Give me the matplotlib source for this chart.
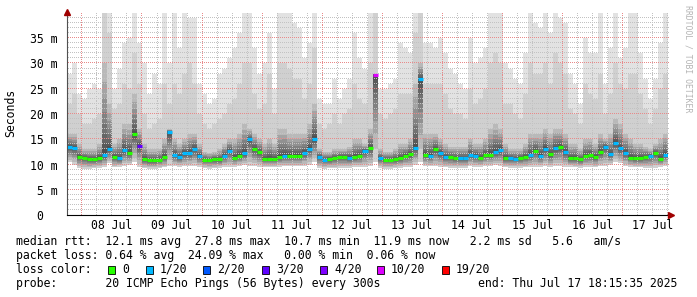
import numpy as np
import matplotlib.pyplot as plt
from matplotlib.patches import Rectangle

# ---- data (2 hour bins, 10 days ending Thu Jul 17 18:15:35) ----
day_labels = ["08 Jul", "09 Jul", "10 Jul", "11 Jul", "12 Jul",
              "13 Jul", "14 Jul", "15 Jul", "16 Jul", "17 Jul"]

median_ms = [13.5, 13.2, 11.5, 11.2, 11.0, 11.0, 11.2, 11.8, 13.0, 11.5,
             11.2, 12.8, 12.3, 16.0, 13.7, 11.0, 10.8, 10.8, 10.9, 11.5,
             16.5, 11.9, 11.5, 12.2, 12.3, 13.1, 11.7, 10.9, 10.9, 11.1,
             11.0, 11.7, 12.7, 11.3, 11.7, 12.2, 15.0, 13.1, 12.4, 11.1,
             11.1, 11.1, 11.5, 11.7, 11.7, 11.7, 11.7, 12.3, 13.1, 15.1,
             11.5, 10.9, 11.1, 11.3, 11.5, 11.5, 11.3, 11.5, 11.7, 12.7,
             13.3, 27.8, 11.3, 10.9, 10.9, 11.1, 11.3, 11.7, 12.0, 13.2,
             27.0, 11.9, 11.7, 13.0, 12.2, 11.5, 11.5, 11.2, 11.2, 11.2,
             11.9, 11.7, 11.3, 11.9, 11.9, 12.5, 12.8, 11.3, 11.2, 11.1,
             11.3, 11.5, 11.9, 12.7, 11.7, 13.1, 12.0, 13.2, 13.5, 12.5,
             11.2, 11.3, 11.0, 11.7, 11.9, 11.5, 12.5, 13.5, 12.0, 14.3,
             13.2, 12.3, 11.3, 11.3, 11.3, 11.5, 11.7, 12.2, 11.1, 11.9]

# index into loss_labels / loss_colors
loss_idx = [1, 1, 0, 0, 0, 0, 0, 1, 1, 0, 1, 1, 0, 0, 3, 0, 0, 0, 0, 0,
            1, 1, 1, 1, 1, 1, 1, 0, 0, 0, 0, 1, 1, 0, 0, 1, 1, 0, 0, 0,
            0, 0, 0, 1, 0, 0, 0, 1, 1, 1, 1, 1, 0, 0, 0, 0, 1, 0, 0, 1,
            0, 5, 1, 0, 0, 0, 0, 0, 0, 1, 1, 0, 1, 0, 1, 1, 0, 0, 1, 1,
            1, 1, 0, 0, 0, 1, 1, 0, 1, 1, 0, 0, 1, 0, 1, 1, 0, 1, 0, 1,
            0, 0, 0, 0, 0, 0, 0, 1, 1, 1, 1, 1, 0, 0, 0, 0, 1, 0, 0, 1]

smoke_top = [28, 30, 24, 23, 25, 26, 25, 40, 40, 25, 29, 34, 35, 40, 34, 30, 24, 28, 26, 40,
             30, 40, 33, 40, 39, 39, 26, 24, 22, 23, 28, 29, 31, 33, 36, 40, 40, 33, 28, 30,
             36, 25, 40, 40, 40, 38, 37, 31, 34, 40, 23, 22, 22, 27, 23, 25, 27, 36, 31, 29,
             40, 40, 25, 25, 26, 27, 34, 33, 32, 40, 40, 34, 34, 33, 35, 32, 29, 28, 26, 25,
             35, 30, 31, 33, 40, 40, 40, 30, 29, 27, 26, 32, 40, 38, 37, 40, 36, 40, 39, 38,
             28, 26, 22, 35, 32, 32, 40, 26, 33, 40, 31, 33, 40, 40, 32, 27, 23, 27, 34, 40]

smoke_mid = [22, 24, 20, 18, 18, 19, 20, 40, 36, 21, 22, 26, 25, 32, 26, 20, 17, 18, 19, 26,
             22, 26, 24, 28, 30, 26, 20, 18, 17, 18, 19, 20, 22, 23, 26, 30, 30, 24, 21, 22,
             28, 20, 30, 30, 29, 27, 27, 23, 26, 33, 18, 17, 18, 20, 18, 20, 21, 26, 23, 22,
             30, 40, 20, 19, 20, 21, 24, 24, 24, 36, 40, 26, 26, 26, 26, 24, 21, 20, 20, 19,
             25, 22, 23, 25, 30, 32, 30, 22, 22, 20, 19, 24, 30, 28, 28, 30, 26, 32, 30, 28,
             21, 20, 18, 26, 24, 23, 28, 20, 24, 30, 26, 25, 28, 28, 24, 21, 18, 21, 25, 28]

smoke_core = [16, 16, 14, 13, 13, 13, 14, 30, 22, 14, 15, 18, 18, 24, 17, 14, 13, 13, 13, 15,
              17, 15, 14, 15, 16, 16, 14, 12.5, 12.3, 12.5, 13, 14, 15, 15, 16, 18, 17, 16, 15, 14,
              15, 14, 17, 17, 16, 16, 16, 16, 18, 22, 13, 12.5, 12.5, 13, 13, 13, 13.5, 15, 15, 14,
              17, 28, 13, 12.5, 12.5, 13, 14, 14, 15, 26, 30, 16, 16, 16, 15, 14, 13.5, 13.5, 13.5, 13.5,
              15, 14, 14, 15, 17, 18, 17, 14, 13, 13, 13, 14, 16, 16, 16, 17, 16, 17, 17, 16,
              14, 14, 13, 15, 15, 14, 16, 15, 16, 19, 18, 16, 15, 14, 14, 13.5, 13, 14, 15, 16]

smoke_bot = [10.5, 10, 9.3, 9.2, 9.2, 9.3, 9.4, 9.6, 10.2, 9.5, 9.6, 9.8, 10, 10.5, 9.5, 9.3, 9.2, 9.2, 9.3, 9.5,
             9.8, 9.7, 9.6, 9.7, 9.8, 9.8, 9.5, 9.3, 9.2, 9.3, 9.4, 9.5, 9.6, 9.6, 9.8, 10, 9.8, 9.8, 9.6, 9.5,
             9.5, 9.5, 9.6, 9.7, 9.7, 9.7, 9.7, 9.8, 10, 10.5, 9.4, 9.2, 9.3, 9.3, 9.4, 9.4, 9.4, 9.6, 9.6, 9.6,
             9.8, 10.5, 9.4, 9.2, 9.2, 9.3, 9.4, 9.5, 9.6, 10, 10.5, 9.7, 9.7, 9.7, 9.6, 9.5, 9.4, 9.4, 9.4, 9.4,
             9.7, 9.6, 9.6, 9.7, 9.8, 9.9, 9.8, 9.5, 9.4, 9.4, 9.4, 9.5, 9.6, 9.6, 9.6, 9.7, 9.6, 9.7, 9.7, 9.6,
             9.6, 9.5, 9.4, 9.6, 9.6, 9.5, 9.7, 9.8, 10, 10.5, 10.2, 9.8, 9.6, 9.5, 9.5, 9.4, 9.3, 9.4, 9.6, 9.8]

loss_labels = ["0", "1/20", "2/20", "3/20", "4/20", "10/20", "19/20"]
loss_colors = ["#26ff00", "#00b8ff", "#0059ff", "#5e00ff", "#7e00ff", "#dd00ff", "#ff0000"]

stat_lines = [
    "median rtt:  12.1 ms avg  27.8 ms max  10.7 ms min  11.9 ms now   2.2 ms sd   5.6   am/s",
    "packet loss: 0.64 % avg  24.09 % max   0.00 % min  0.06 % now",
]
probe_line = "probe:       20 ICMP Echo Pings (56 Bytes) every 300s"
end_line = "end: Thu Jul 17 18:15:35 2025"

# ---- layout ----
W, H = 697, 297
PW, PH = 601, 202        # plot area in pixels
mono = "DejaVu Sans Mono"
fs = 8.3

start = -0.2392          # days from 08 Jul 00:00
n = len(median_ms)
step = 10.0 / n
edges = start + np.arange(n + 1) * step
ymax = 40

fig = plt.figure(figsize=(W / 100, H / 100), dpi=100)
fig.patch.set_facecolor("white")
ax = fig.add_axes([67 / W, 82 / H, PW / W, PH / H])


def ext(a):
    a = np.asarray(a, dtype=float)
    return np.append(a, a[-1])


med = np.asarray(median_ms, dtype=float)
bot = np.asarray(smoke_bot, dtype=float)
core = np.asarray(smoke_core, dtype=float)

# smoke
ax.fill_between(edges, ext(bot), ext(smoke_top), step="post", color="#e2e2e2", lw=0, zorder=1)
ax.fill_between(edges, ext(bot), ext(smoke_mid), step="post", color="#d0d0d0", lw=0, zorder=1.1)
for f in [1.0, 0.8, 0.62, 0.47, 0.34, 0.23, 0.14, 0.07]:
    lo = med - (med - bot) * f * 0.85
    hi = med + (core - med) * f
    ax.fill_between(edges, ext(lo), ext(hi), step="post", color="black",
                    alpha=0.11, lw=0, zorder=1.2)

# dotted rrdtool-style grid: one pixel every other pixel
minor_col, major_col = "#c2c2c2", "#e88a8a"
dots_x = start + (np.arange(0, PW, 2) + 0.5) / PW * 10
dots_y = (np.arange(0, PH, 2) + 0.5) / PH * ymax
for v in range(1, ymax):
    major = v % 5 == 0
    ax.plot(dots_x, np.full(dots_x.size, v), ",", color=major_col if major else minor_col,
            zorder=2.1 if major else 2)
for xv in np.arange(0.0, 10.0, 0.25):
    if xv <= start or xv >= start + 10:
        continue
    major = abs(xv - round(xv)) < 1e-6
    ax.plot(np.full(dots_y.size, xv), dots_y, ",", color=major_col if major else minor_col,
            zorder=2.1 if major else 2)

# median, coloured by loss
ax.hlines(med, edges[:-1], edges[1:], colors=[loss_colors[i] for i in loss_idx],
          lw=2.3, zorder=4)

ax.set_xlim(start, start + 10)
ax.set_ylim(0, ymax)
ax.set_xticks(np.arange(10) + 0.5)
ax.set_xticklabels(day_labels, family=mono, fontsize=fs)
ax.set_yticks(np.arange(0, 40, 5))
ax.set_yticklabels(["0  "] + [f"{v} m" for v in range(5, 40, 5)], family=mono, fontsize=fs)
ax.tick_params(axis="y", length=0, pad=7)
ax.tick_params(axis="x", length=0, pad=3)
for s in ["top", "right"]:
    ax.spines[s].set_visible(False)
ax.spines["left"].set_color("#505050")
ax.spines["bottom"].set_color("black")
ax.spines["left"].set_zorder(5)
ax.spines["bottom"].set_zorder(5)

# axis arrows
ax.plot([0], [1.005], marker="^", ms=4.5, color="#a00000", transform=ax.transAxes,
        clip_on=False, zorder=6)
ax.plot([1.005], [0], marker=">", ms=4.5, color="#a00000", transform=ax.transAxes,
        clip_on=False, zorder=6)

fig.text(11 / W, 1 - 113 / H, "Seconds", rotation=90, family=mono, fontsize=fs,
         ha="center", va="center")
fig.text(688 / W, 1 - 5 / H, "RRDTOOL / TOBI OETIKER", rotation=270, family=mono,
         fontsize=5.9, color="#b4b4b4", ha="center", va="top")

# legend / stats block
row_y = [241.5, 255.5, 269.5, 283.5]
for y, line in zip(row_y[:2], stat_lines):
    fig.text(16 / W, 1 - y / H, line, family=mono, fontsize=fs, ha="left", va="center")
fig.text(16 / W, 1 - row_y[2] / H, "loss color:", family=mono, fontsize=fs,
         ha="left", va="center")
box_x = [108, 146, 203, 262, 320, 377, 442]
for bx, lab, col in zip(box_x, loss_labels, loss_colors):
    fig.add_artist(Rectangle((bx / W, 1 - 273.5 / H), 7 / W, 8 / H, transform=fig.transFigure,
                             facecolor=col, edgecolor="black", lw=0.6))
    fig.text((bx + 14) / W, 1 - row_y[2] / H, lab, family=mono, fontsize=fs,
             ha="left", va="center")
fig.text(16 / W, 1 - row_y[3] / H, probe_line, family=mono, fontsize=fs, ha="left", va="center")
fig.text(478 / W, 1 - row_y[3] / H, end_line, family=mono, fontsize=fs, ha="left", va="center")

fig.savefig("out.png", dpi=100)
